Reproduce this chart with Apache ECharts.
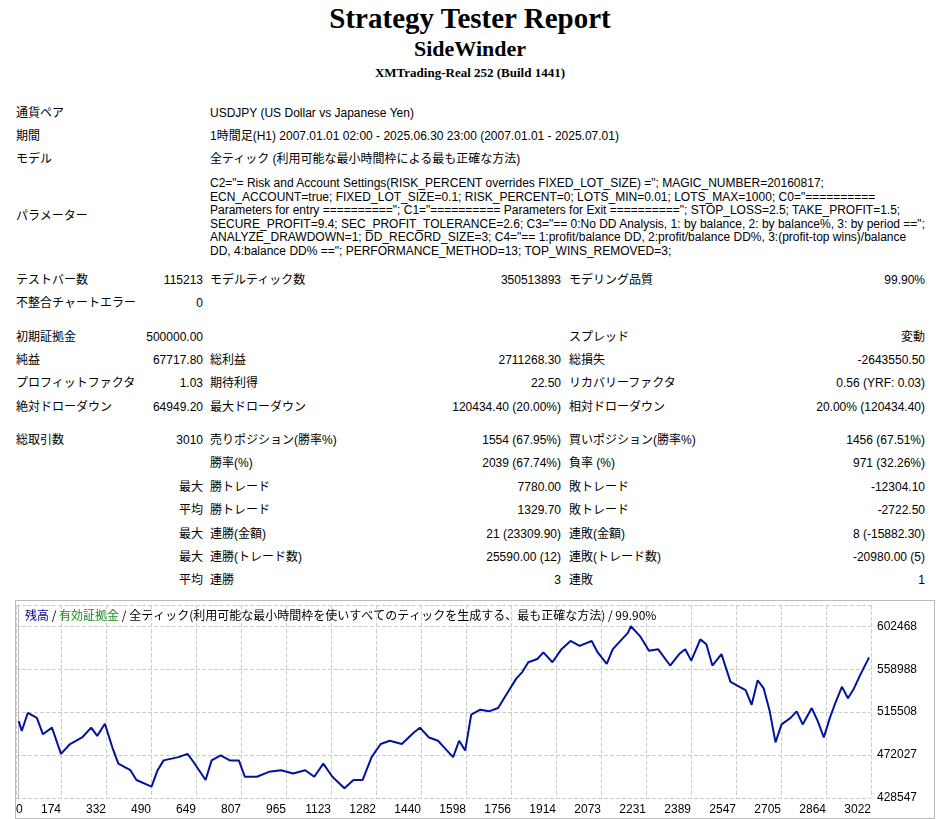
<!DOCTYPE html>
<html><head><meta charset="utf-8">
<script src="https://cdn.jsdelivr.net/npm/echarts@6/dist/echarts.min.js"></script>
<style>
body{margin:0;width:940px;height:819px;background:#fff;position:relative;overflow:hidden;font-family:"Liberation Sans","Noto Sans CJK JP",sans-serif;font-size:12px;color:#000}
.t{position:absolute;white-space:nowrap;line-height:14px}
.h{position:absolute;left:0;width:940px;text-align:center;font-family:"Liberation Serif","Noto Sans CJK JP",serif;font-weight:bold}
#chart{position:absolute;left:15px;top:600px;width:920px;height:219px;border:1px solid #bbb;box-sizing:border-box}
</style></head><body>
<div class="h" style="top:2px;font-size:29px">Strategy Tester Report</div>
<div class="h" style="top:36px;font-size:22px">SideWinder</div>
<div class="h" style="top:65px;font-size:13px">XMTrading-Real 252 (Build 1441)</div>
<div id="txt"></div>
<div id="chart"></div>
<script>
// ---- data ----
const tradeIdx = [0,11,33,66,88,121,154,187,231,264,286,314,341,363,407,429,484,506,528,582,615,637,681,703,736,769,802,824,868,912,956,1000,1044,1077,1110,1143,1187,1220,1253,1286,1319,1352,1396,1440,1462,1495,1528,1550,1583,1605,1627,1649,1682,1714,1747,1780,1813,1835,1857,1890,1912,1945,1978,2011,2044,2088,2110,2143,2165,2187,2220,2231,2264,2297,2330,2374,2407,2429,2451,2484,2506,2528,2561,2594,2627,2649,2671,2693,2715,2737,2758,2780,2813,2835,2857,2890,2912,2934,2956,2978,3000,3022,3044,3066,3099];
const balance = [506391,496452,514673,509704,493139,499765,473261,483200,489826,499765,491482,503741,479887,463322,456696,446757,440131,456696,466635,469948,473261,464978,446757,466635,471604,466635,466635,450070,450070,455039,456696,453383,456696,450070,463322,450070,438474,446757,446757,469948,483200,486513,483200,494795,499765,489826,486513,479887,469948,486513,476574,513017,517986,516330,519643,534551,549460,556086,566025,569338,575964,566025,579277,587559,582590,587559,575964,564368,579277,585903,595842,602468,592529,577620,579277,562712,574307,579277,567681,589216,584246,562712,574307,546147,541177,537864,522956,547803,539521,516330,484856,503078,509704,516330,503078,519643,506391,489826,509704,526269,541177,529582,539521,552773,570994];
const xTickLabels = ['0','174','332','490','649','807','965','1123','1282','1440','1598','1756','1914','2073','2231','2389','2547','2705','2864','3022'];
const yMin = 428547, yStep = 43480.25;

// ---- text rows ----
const rows = [
 [113,[[16,'l','通貨ペア'],[210,'l','USDJPY (US Dollar vs Japanese Yen)']]],
 [136,[[16,'l','期間'],[210,'l','1時間足(H1) 2007.01.01 02:00 - 2025.06.30 23:00 (2007.01.01 - 2025.07.01)']]],
 [159,[[16,'l','モデル'],[210,'l','全ティック (利用可能な最小時間枠による最も正確な方法)']]],
 [216,[[16,'l','パラメーター']]],
 [280,[[16,'l','テストバー数'],[203,'r','115213'],[210,'l','モデルティック数'],[561,'r','350513893'],[569,'l','モデリング品質'],[925,'r','99.90%']]],
 [303,[[16,'l','不整合チャートエラー'],[203,'r','0']]],
 [337,[[16,'l','初期証拠金'],[203,'r','500000.00'],[569,'l','スプレッド'],[925,'r','変動']]],
 [360,[[16,'l','純益'],[203,'r','67717.80'],[210,'l','総利益'],[561,'r','2711268.30'],[569,'l','総損失'],[925,'r','-2643550.50']]],
 [383,[[16,'l','プロフィットファクタ'],[203,'r','1.03'],[210,'l','期待利得'],[561,'r','22.50'],[569,'l','リカバリーファクタ'],[925,'r','0.56 (YRF: 0.03)']]],
 [407,[[16,'l','絶対ドローダウン'],[203,'r','64949.20'],[210,'l','最大ドローダウン'],[561,'r','120434.40 (20.00%)'],[569,'l','相対ドローダウン'],[925,'r','20.00% (120434.40)']]],
 [440,[[16,'l','総取引数'],[203,'r','3010'],[210,'l','売りポジション(勝率%)'],[561,'r','1554 (67.95%)'],[569,'l','買いポジション(勝率%)'],[925,'r','1456 (67.51%)']]],
 [463,[[210,'l','勝率(%)'],[561,'r','2039 (67.74%)'],[569,'l','負率 (%)'],[925,'r','971 (32.26%)']]],
 [487,[[203,'r','最大'],[210,'l','勝トレード'],[561,'r','7780.00'],[569,'l','敗トレード'],[925,'r','-12304.10']]],
 [510,[[203,'r','平均'],[210,'l','勝トレード'],[561,'r','1329.70'],[569,'l','敗トレード'],[925,'r','-2722.50']]],
 [534,[[203,'r','最大'],[210,'l','連勝(金額)'],[561,'r','21 (23309.90)'],[569,'l','連敗(金額)'],[925,'r','8 (-15882.30)']]],
 [557,[[203,'r','最大'],[210,'l','連勝(トレード数)'],[561,'r','25590.00 (12)'],[569,'l','連敗(トレード数)'],[925,'r','-20980.00 (5)']]],
 [580,[[203,'r','平均'],[210,'l','連勝'],[561,'r','3'],[569,'l','連敗'],[925,'r','1']]]
];
const params = ['C2="= Risk and Account Settings(RISK_PERCENT overrides FIXED_LOT_SIZE) ="; MAGIC_NUMBER=20160817;',
 'ECN_ACCOUNT=true; FIXED_LOT_SIZE=0.1; RISK_PERCENT=0; LOTS_MIN=0.01; LOTS_MAX=1000; C0="==========',
 'Parameters for entry =========="; C1="========== Parameters for Exit =========="; STOP_LOSS=2.5; TAKE_PROFIT=1.5;',
 'SECURE_PROFIT=9.4; SEC_PROFIT_TOLERANCE=2.6; C3="== 0:No DD Analysis, 1: by balance, 2: by balance%, 3: by period ==";',
 'ANALYZE_DRAWDOWN=1; DD_RECORD_SIZE=3; C4="== 1:profit/balance DD, 2:profit/balance DD%, 3:(profit-top wins)/balance',
 'DD, 4:balance DD% =="; PERFORMANCE_METHOD=13; TOP_WINS_REMOVED=3;'];
let html='';
const esc=s=>s.replace(/&/g,'&amp;').replace(/</g,'&lt;');
rows.forEach(([y,cells])=>cells.forEach(([x,a,s])=>{
  html += a==='l' ? `<div class="t" style="left:${x}px;top:${y-7}px">${esc(s)}</div>`
                  : `<div class="t" style="right:${940-x}px;top:${y-7}px">${esc(s)}</div>`;
}));
params.forEach((s,i)=>{html+=`<div class="t" style="left:210px;top:${176+i*13.6}px">${esc(s)}</div>`;});
document.getElementById('txt').innerHTML=html;

// ---- chart ----
const chart = echarts.init(document.getElementById('chart'));
chart.setOption({
  animation:false,
  title:{left:4,top:3,text:'{a|残高} / {b|有効証拠金} / 全ティック(利用可能な最小時間枠を使いすべてのティックを生成する、最も正確な方法) / 99.90%',
    textStyle:{fontSize:12,fontWeight:'normal',color:'#000',fontFamily:'Noto Sans CJK JP',
      rich:{a:{color:'#00008b',fontSize:12,fontFamily:'Noto Sans CJK JP'},b:{color:'#1a8a1a',fontSize:12,fontFamily:'Noto Sans CJK JP'}}}},
  grid:{left:0,top:4,right:63,bottom:20,outerBoundsMode:'none',containLabel:false},
  xAxis:{type:'value',min:-10,max:3106,interval:164,
    axisLine:{show:false},axisTick:{show:false},
    splitLine:{show:true,lineStyle:{color:'#ccc',type:'dashed'}},
    axisLabel:{color:'#000',fontSize:12,margin:6,align:'right',alignMinLabel:'left',showMaxLabel:true,showMinLabel:true,hideOverlap:false,
      formatter:v=>{const i=Math.round((v+10)/164);return xTickLabels[i]||'';}}},
  yAxis:{type:'value',position:'right',min:yMin,max:624003,interval:yStep,
    axisLine:{show:true,lineStyle:{color:'#bbb'}},axisTick:{show:false},
    splitLine:{show:true,lineStyle:{color:'#ccc',type:'dashed'}},
    axisLabel:{color:'#000',fontSize:12,margin:6,showMaxLabel:false,formatter:v=>String(Math.round(v))}},
  series:[{type:'line',showSymbol:false,data:tradeIdx.map((t,i)=>[t,balance[i]]),
    lineStyle:{color:'#00139c',width:2}}]
});
</script></body></html>
